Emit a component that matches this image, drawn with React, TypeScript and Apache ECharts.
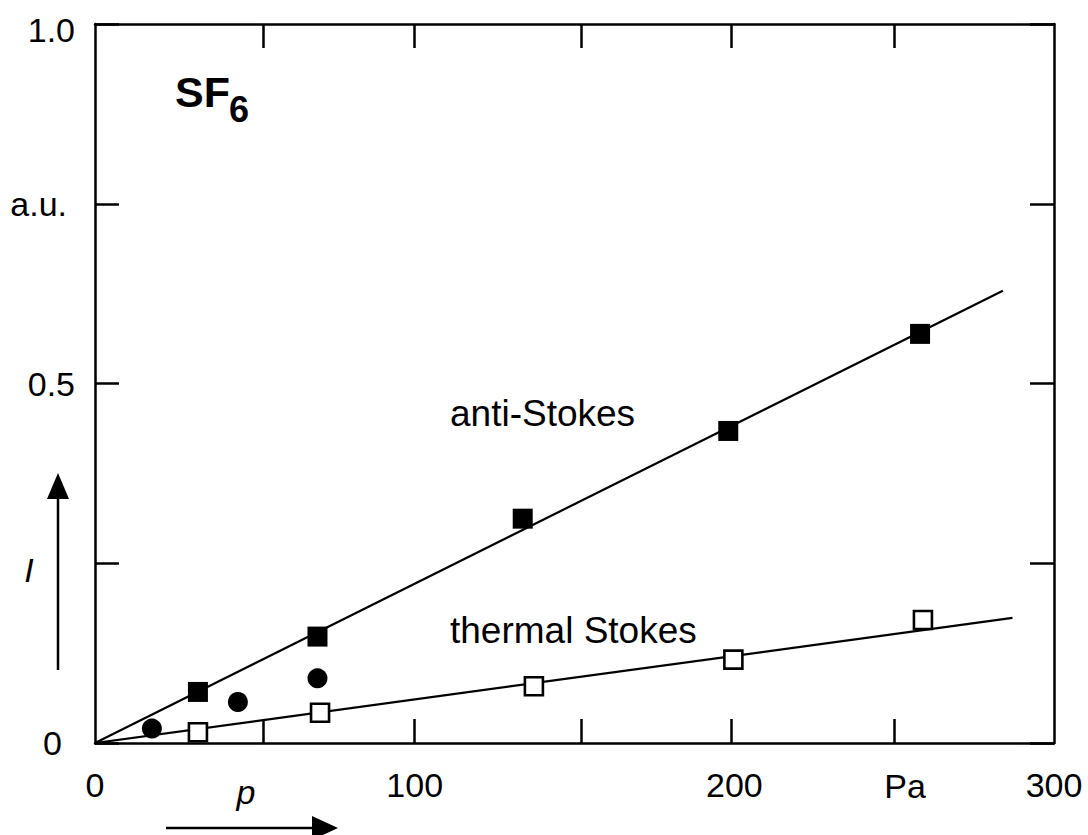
import React, { useEffect, useRef } from "react";
import * as echarts from "echarts";

// Pressure axis (Pa): tick and label positions
const xTickValues = [52.5, 100, 152, 199, 250];
const xLabelValues = [0, 100, 200, 300];

// Intensity axis (a.u.): label texts by value
const yLabelValues = [0, 0.5, 0.75, 1.0];
const yLabelTexts = ["0", "0.5", "a.u.", "1.0"];

// anti-Stokes intensity (filled squares)
const antiStokesP = [32.2, 69.6, 133.8, 198.1, 258.1];
const antiStokesI = [0.071, 0.148, 0.312, 0.434, 0.569];

// additional measurements (filled circles)
const circleP = [17.8, 44.7, 69.6];
const circleI = [0.02, 0.057, 0.09];

// thermal Stokes intensity (open squares)
const thermalP = [32.2, 70.4, 137.3, 199.7, 259.0];
const thermalI = [0.015, 0.042, 0.079, 0.116, 0.171];

// linear fits through the origin
const antiStokesFitP = [0, 284];
const antiStokesFitI = [0, 0.629];
const thermalFitP = [0, 287];
const thermalFitI = [0, 0.174];

const FONT = "'Liberation Sans', Arial, Helvetica, sans-serif";
const pairs = (xs: number[], ys: number[]) => xs.map((x, i) => [x, ys[i]]);

const frameLine = { show: true, onZero: false, lineStyle: { color: "#000", width: 2.5 } };
const innerTick = (custom?: number[]) => ({
  show: true,
  inside: true,
  length: 24,
  ...(custom ? { customValues: custom } : {}),
  lineStyle: { color: "#000", width: 2.5 },
});

export default function App() {
  const ref = useRef<HTMLDivElement>(null);

  useEffect(() => {
    if (!ref.current) return;
    const chart = echarts.init(ref.current, undefined, { renderer: "svg" });

    const labelStyle = { fontSize: 34, fontFamily: FONT, color: "#000" };

    chart.setOption({
      animation: false,
      backgroundColor: "#fff",
      grid: { left: 95, right: 34, top: 24, bottom: 92 },
      xAxis: [
        {
          type: "value",
          position: "bottom",
          min: 0,
          max: 300,
          axisLine: frameLine,
          axisTick: innerTick(xTickValues),
          axisLabel: { ...labelStyle, margin: 25, customValues: xLabelValues },
          splitLine: { show: false },
        },
        {
          type: "value",
          position: "top",
          min: 0,
          max: 300,
          axisLine: frameLine,
          axisTick: innerTick(xTickValues),
          axisLabel: { show: false },
          splitLine: { show: false },
        },
      ],
      yAxis: [
        {
          type: "value",
          position: "left",
          min: 0,
          max: 1,
          interval: 0.25,
          axisLine: frameLine,
          axisTick: innerTick(),
          axisLabel: {
            ...labelStyle,
            margin: 20,
            formatter: (v: number) => {
              const i = yLabelValues.findIndex((y) => Math.abs(y - v) < 1e-6);
              if (i < 0) return "";
              const t = yLabelTexts[i];
              if (t === "0") return "{z|0}";
              if (t === "a.u.") return "{u|a.u.}";
              if (t === "1.0") return "{t|1.0}";
              return t;
            },
            rich: {
              z: { ...labelStyle, padding: [0, 13, 0, 0] },
              u: { ...labelStyle, padding: [0, 8, 0, 0] },
              t: { ...labelStyle, padding: [12, 0, 0, 0] },
            },
          },
          splitLine: { show: false },
        },
        {
          type: "value",
          position: "right",
          min: 0,
          max: 1,
          interval: 0.25,
          axisLine: frameLine,
          axisTick: innerTick(),
          axisLabel: { show: false },
          splitLine: { show: false },
        },
      ],
      series: [
        {
          type: "line",
          data: pairs(antiStokesFitP, antiStokesFitI),
          symbol: "none",
          lineStyle: { color: "#000", width: 2.2 },
          z: 1,
        },
        {
          type: "line",
          data: pairs(thermalFitP, thermalFitI),
          symbol: "none",
          lineStyle: { color: "#000", width: 2.2 },
          z: 1,
        },
        {
          name: "anti-Stokes",
          type: "scatter",
          data: pairs(antiStokesP, antiStokesI),
          symbol: "rect",
          symbolSize: 20,
          itemStyle: { color: "#000", opacity: 1 },
          z: 3,
        },
        {
          type: "scatter",
          data: pairs(circleP, circleI),
          symbol: "circle",
          symbolSize: 20,
          itemStyle: { color: "#000", opacity: 1 },
          z: 3,
        },
        {
          name: "thermal Stokes",
          type: "scatter",
          data: pairs(thermalP, thermalI),
          symbol: "rect",
          symbolSize: 18,
          itemStyle: { color: "#fff", borderColor: "#000", borderWidth: 2.6, opacity: 1 },
          z: 3,
        },
      ],
      graphic: [
        {
          type: "text",
          x: 175,
          y: 92,
          style: {
            text: "SF",
            font: `bold 43px ${FONT}`,
            fill: "#000",
            verticalAlign: "middle",
          },
        },
        {
          type: "text",
          x: 229,
          y: 109,
          style: {
            text: "6",
            font: `bold 36px ${FONT}`,
            fill: "#000",
            verticalAlign: "middle",
          },
        },
        {
          type: "text",
          x: 450,
          y: 413,
          style: {
            text: "anti-Stokes",
            font: `37px ${FONT}`,
            fill: "#000",
            verticalAlign: "middle",
          },
        },
        {
          type: "text",
          x: 450,
          y: 630,
          style: {
            text: "thermal Stokes",
            font: `37px ${FONT}`,
            fill: "#000",
            verticalAlign: "middle",
          },
        },
        {
          type: "text",
          x: 905,
          y: 786,
          style: {
            text: "Pa",
            font: `34px ${FONT}`,
            fill: "#000",
            align: "center",
            verticalAlign: "middle",
          },
        },
        {
          type: "text",
          x: 246,
          y: 792,
          style: {
            text: "p",
            font: `italic 34px ${FONT}`,
            fill: "#000",
            align: "center",
            verticalAlign: "middle",
          },
        },
        {
          type: "text",
          x: 29,
          y: 570,
          style: {
            text: "I",
            font: `italic 34px ${FONT}`,
            fill: "#000",
            align: "center",
            verticalAlign: "middle",
          },
        },
        // pressure arrow
        {
          type: "line",
          shape: { x1: 166, y1: 828, x2: 316, y2: 828 },
          style: { stroke: "#000", lineWidth: 2.5 },
        },
        {
          type: "polygon",
          shape: { points: [[338, 828], [312, 816], [312, 840]] },
          style: { fill: "#000" },
        },
        // intensity arrow
        {
          type: "line",
          shape: { x1: 58, y1: 670, x2: 58, y2: 495 },
          style: { stroke: "#000", lineWidth: 2.5 },
        },
        {
          type: "polygon",
          shape: { points: [[58, 473], [47, 499], [69, 499]] },
          style: { fill: "#000" },
        },
      ],
    });

    return () => chart.dispose();
  }, []);

  return (
    <div
      ref={ref}
      style={{ position: "fixed", left: 0, top: 0, width: 1088, height: 835, background: "#fff" }}
    />
  );
}
